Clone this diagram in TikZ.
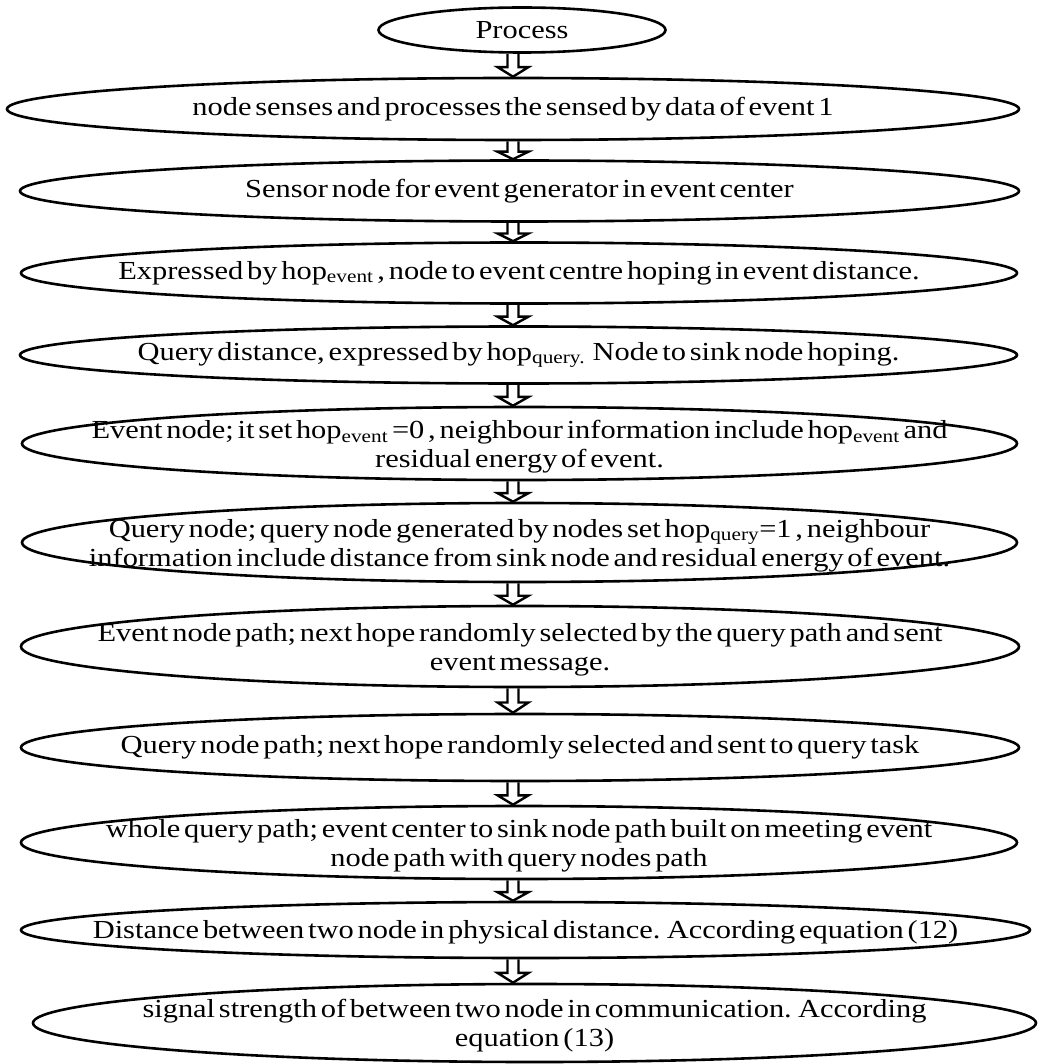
\documentclass[tikz,border=0pt]{standalone}
\usepackage{fontspec}
\setmainfont{Liberation Serif}[FakeStretch=1.17, WordSpace=0.5]
\usetikzlibrary{shapes.geometric,calc}
\tikzset{
  oval/.style={ellipse, draw, line width=2.6pt, inner sep=0pt},
  lbl/.style={align=center, font=\fontsize{26}{29}\selectfont, inner sep=0pt},
  lbltwo/.style={lbl, yshift=-3pt},
  hollow/.style={draw, line width=2.4pt, line join=miter},
}
\newcommand\flowarrow[2]{%
  \draw[hollow] let \p1=(#1.south), \p2=(#2.north), \p3=(axis),
     \n1={0.42*\y1+0.58*\y2} in
  (\x3+5.5pt,\y1) -- (\x3+5.5pt,\n1) -- (\x3+15.5pt,\n1) -- (\x3,\y2)
  -- (\x3-15.5pt,\n1) -- (\x3-5.5pt,\n1) -- (\x3-5.5pt,\y1);}
\begin{document}
\begin{tikzpicture}[x=1pt,y=-1pt]
\useasboundingbox (0,0) rectangle (1037,1064);
\coordinate (axis) at (513,0);
% ellipses
\node[oval, minimum width=287pt, minimum height=45pt] (e1) at (522,30) {};
\node[oval, minimum width=1012pt, minimum height=62pt] (e2) at (513,109) {};
\node[oval, minimum width=999pt, minimum height=61pt] (e3) at (519.5,191) {};
\node[oval, minimum width=996pt, minimum height=61pt] (e4) at (519,273) {};
\node[oval, minimum width=997pt, minimum height=57pt] (e5) at (518.5,355) {};
\node[oval, minimum width=995pt, minimum height=73pt] (e6) at (519.5,443.5) {};
\node[oval, minimum width=995pt, minimum height=79pt] (e7) at (519.5,542.5) {};
\node[oval, minimum width=998pt, minimum height=81pt] (e8) at (520,646.5) {};
\node[oval, minimum width=998pt, minimum height=67pt] (e9) at (520,747.5) {};
\node[oval, minimum width=996pt, minimum height=73pt] (e10) at (519,842.5) {};
\node[oval, minimum width=1009pt, minimum height=56pt] (e11) at (525.5,930) {};
\node[oval, minimum width=1003pt, minimum height=78pt] (e12) at (534.5,1023) {};
% labels
\node[lbl] (t1) at (e1) {Process};
\node[lbl] (t2) at (e2) {node senses and processes the sensed by data of event 1};
\node[lbl] (t3) at (e3) {Sensor node for event generator in event center};
\node[lbl] (t4) at (e4) {Expressed by hop\textsubscript{event} , node to event centre hoping in event distance.};
\node[lbl] (t5) at (e5) {Query distance, expressed by hop\textsubscript{query.}\ \ Node to sink node hoping.};
\node[lbltwo] (t6) at (e6) {Event node; it set hop\textsubscript{event} =0 , neighbour information include hop\textsubscript{event} and\\ residual energy of event.};
\node[lbltwo] (t7) at (e7) {Query node; query node generated by nodes set hop\textsubscript{query}=1 , neighbour\\ information include distance from sink node and residual energy of event.};
\node[lbltwo] (t8) at (e8) {Event node path; next hope randomly selected by the query path and sent\\ event message.};
\node[lbl] (t9) at (e9) {Query node path; next hope randomly selected and sent to query task};
\node[lbltwo] (t10) at (e10) {whole query path; event center to sink node path built on meeting event\\ node path with query nodes path};
\node[lbl, yshift=-2pt] (t11) at (e11) {Distance between two node in physical distance. According equation (12)};
\node[lbltwo] (t12) at (e12) {signal strength of between two node in communication. According\\ equation (13)};
% arrows
\flowarrow{e1}{e2}
\flowarrow{e2}{e3}
\flowarrow{e3}{e4}
\flowarrow{e4}{e5}
\flowarrow{e5}{e6}
\flowarrow{e6}{e7}
\flowarrow{e7}{e8}
\flowarrow{e8}{e9}
\flowarrow{e9}{e10}
\flowarrow{e10}{e11}
\flowarrow{e11}{e12}
\end{tikzpicture}
\end{document}
